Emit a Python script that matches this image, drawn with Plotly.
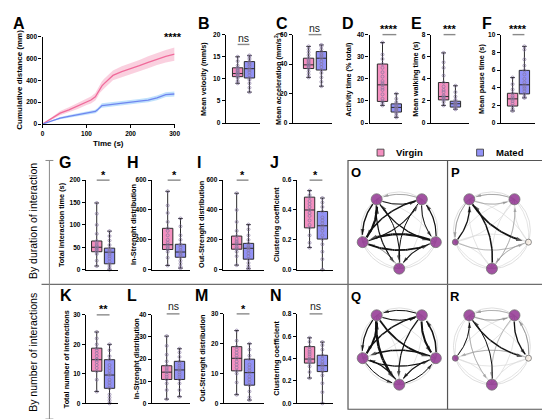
import numpy as np
import plotly.graph_objects as go

W, H = 550, 419
FONT = "Liberation Sans"
PINK = "#f490c0"
BLUE = "#9292f6"
DOT = "#85779f"
NODE = "#7b0a7b"

# ---------------- DATA ----------------
groups = ["Virgin", "Mated"]

# Panel A: cumulative distance (mm) vs time (s)
time_s = [0, 20, 40, 60, 80, 100, 110, 120, 125, 130, 135, 140, 160, 180, 200, 220, 240, 260, 280, 300]
virgin_distance = [0, 50, 100, 130, 165, 205, 220, 250, 285, 325, 350, 370, 445, 480, 505, 535, 565, 595, 620, 640]
virgin_sem = [0, 12, 20, 25, 28, 30, 32, 35, 38, 40, 42, 44, 45, 48, 50, 52, 55, 55, 58, 60]
mated_distance = [0, 30, 55, 70, 85, 100, 110, 115, 130, 155, 170, 172, 180, 190, 200, 210, 220, 240, 270, 275]
mated_sem = [0, 5, 10, 12, 14, 15, 16, 16, 18, 18, 20, 20, 20, 20, 20, 20, 20, 22, 22, 22]

# Box stats: [lower whisker, Q1, median, Q3, upper whisker]
velocity_virgin = [9.0, 10.5, 11.2, 12.5, 15.0]
velocity_mated = [7.0, 10.2, 12.3, 13.9, 15.3]
velocity_virgin_pts = [9.0, 9.5, 10.2, 10.5, 10.8, 11.0, 11.2, 11.3, 11.5, 11.8, 12.0, 12.3, 12.5, 13.0, 14.0, 15.0]
velocity_mated_pts = [7.0, 8.0, 9.0, 9.8, 10.2, 10.8, 11.5, 12.0, 12.3, 12.8, 13.2, 13.6, 13.9, 14.5, 15.0, 15.3]

accel_virgin = [31, 37, 39.5, 44, 52]
accel_mated = [25, 36, 44, 48.5, 53]
accel_virgin_pts = [31, 33, 35, 37, 38, 39, 39.5, 40, 41, 42, 43, 44, 46, 48, 50, 52]
accel_mated_pts = [25, 28, 31, 34, 36, 38, 40, 42, 44, 45, 46, 47, 48.5, 50, 52, 53]

activity_virgin = [8.0, 9.8, 17.3, 26.7, 36.4]
activity_mated = [2.6, 5.0, 7.1, 8.7, 13.3]
activity_virgin_pts = [8.0, 9.0, 9.8, 11, 13, 15, 16, 17.3, 18, 19, 21, 23, 25, 26.7, 29, 31, 36.4]
activity_mated_pts = [2.6, 3.5, 4.5, 5.0, 5.5, 6.0, 6.5, 7.1, 7.5, 8.0, 8.7, 9.5, 11, 13.3]

walking_virgin = [1.6, 2.1, 2.4, 3.67, 6.35]
walking_mated = [1.25, 1.45, 1.75, 1.98, 3.38]
walking_virgin_pts = [1.6, 1.9, 2.1, 2.2, 2.3, 2.4, 2.5, 2.8, 3.0, 3.3, 3.67, 4.3, 5.0, 5.5, 6.35]
walking_mated_pts = [1.25, 1.35, 1.45, 1.55, 1.65, 1.75, 1.8, 1.9, 1.98, 2.1, 2.4, 2.8, 3.38]

pause_virgin = [1.37, 1.93, 2.74, 3.37, 5.15]
pause_mated = [2.85, 3.3, 4.33, 5.96, 8.67]
pause_virgin_pts = [1.37, 1.6, 1.93, 2.2, 2.5, 2.74, 2.9, 3.1, 3.37, 3.8, 4.4, 5.15]
pause_mated_pts = [2.85, 3.0, 3.3, 3.6, 3.9, 4.1, 4.33, 4.6, 5.0, 5.5, 5.96, 6.5, 7.2, 8.3, 8.67]

dur_total_virgin = [8, 40, 50, 64, 149]
dur_total_mated = [0, 13, 39, 48, 86]
dur_total_virgin_pts = [8, 20, 35, 40, 42, 45, 48, 50, 52, 55, 60, 64, 80, 100, 125, 149]
dur_total_mated_pts = [0, 3, 8, 13, 18, 25, 30, 35, 39, 42, 45, 48, 55, 65, 75, 86]

dur_in_virgin = [28, 135, 167, 277, 525]
dur_in_mated = [10, 83, 118, 170, 343]
dur_in_virgin_pts = [28, 80, 120, 135, 145, 155, 167, 180, 200, 230, 260, 277, 320, 380, 430, 525]
dur_in_mated_pts = [10, 20, 40, 60, 83, 95, 105, 118, 130, 150, 165, 170, 200, 230, 290, 343]

dur_out_virgin = [30, 137, 170, 225, 512]
dur_out_mated = [5, 70, 143, 176, 302]
dur_out_virgin_pts = [30, 90, 120, 137, 145, 155, 170, 180, 190, 205, 225, 260, 320, 400, 512]
dur_out_mated_pts = [5, 10, 25, 45, 70, 90, 110, 130, 143, 150, 160, 176, 200, 230, 270, 302]

dur_clust_virgin = [0.148, 0.28, 0.40, 0.486, 0.53]
dur_clust_mated = [0.0, 0.205, 0.294, 0.39, 0.48]
dur_clust_virgin_pts = [0.148, 0.18, 0.23, 0.28, 0.30, 0.33, 0.36, 0.38, 0.40, 0.42, 0.44, 0.46, 0.486, 0.50, 0.53]
dur_clust_mated_pts = [0.0, 0.07, 0.12, 0.17, 0.205, 0.23, 0.26, 0.28, 0.294, 0.31, 0.33, 0.35, 0.39, 0.42, 0.45, 0.48]

num_total_virgin = [4, 10.9, 14.8, 18.7, 24.2]
num_total_mated = [0, 5.1, 9.6, 14.8, 20]
num_total_virgin_pts = [4, 8, 10.9, 12, 13, 14, 14.8, 15, 16, 17, 18, 18.7, 20, 22, 24.2]
num_total_mated_pts = [0, 1, 2, 3, 5.1, 6, 7, 8, 9.6, 10, 11, 12, 13, 14.8, 16, 18, 20]

num_in_virgin = [1.9, 10.8, 14.1, 17, 30.4]
num_in_mated = [3, 10.8, 15.1, 19, 24.7]
num_in_virgin_pts = [1.9, 6, 9, 10.8, 12, 13, 14.1, 15, 16, 17, 19, 22, 26, 30.4]
num_in_mated_pts = [3, 6, 9, 10.8, 12, 13, 14, 15.1, 16, 17, 18, 19, 21, 23, 24.7]

num_out_virgin = [2.9, 10.9, 15.1, 19, 24.4]
num_out_mated = [1.1, 6.1, 10.3, 14.8, 20]
num_out_virgin_pts = [2.9, 7, 10, 10.9, 12, 13, 14, 15.1, 16, 17, 18, 19, 21, 24.4]
num_out_mated_pts = [1.1, 2, 4, 6.1, 7, 8, 9, 10.3, 11, 12, 13, 14.8, 16, 18, 20]

num_clust_virgin = [0.226, 0.36, 0.396, 0.507, 0.586]
num_clust_mated = [0.0, 0.284, 0.337, 0.43, 0.548]
num_clust_virgin_pts = [0.226, 0.28, 0.33, 0.36, 0.37, 0.38, 0.39, 0.40, 0.42, 0.44, 0.46, 0.48, 0.507, 0.55, 0.586]
num_clust_mated_pts = [0.0, 0.1, 0.18, 0.25, 0.284, 0.30, 0.32, 0.337, 0.35, 0.37, 0.40, 0.43, 0.48, 0.52, 0.548]

# Networks: edges (source, target, weight); node sizes and colours
net_O_edges = [(4, 0, 2.2), (0, 4, 1.4), (2, 4, 2.2), (4, 2, 1.8), (1, 4, 1.5), (0, 2, 1.3), (0, 3, 1.2),
               (1, 3, 1.0), (2, 3, 1.1), (3, 4, 0.9), (2, 1, 1.2), (1, 2, 1.0), (0, 1, 1.0), (3, 0, 1.0),
               (4, 1, 1.1), (1, 0, 0.7)]
net_P_edges = [(0, 2, 1.8), (3, 0, 1.5), (4, 0, 1.3), (0, 4, 0.8), (1, 0, 0.7), (3, 1, 0.6), (2, 3, 0.6),
               (0, 1, 0.6), (4, 2, 0.5)]
net_Q_edges = [(0, 3, 2.5), (4, 0, 2.0), (1, 2, 2.0), (2, 1, 1.5), (0, 2, 1.8), (1, 4, 1.5), (2, 4, 1.5),
               (4, 2, 1.2), (3, 4, 1.2), (4, 3, 1.0), (2, 3, 1.2), (3, 2, 1.0), (0, 1, 1.2), (1, 0, 1.0),
               (1, 3, 1.2), (0, 4, 1.2)]
net_R_edges = [(0, 2, 1.3), (1, 2, 1.3), (2, 1, 0.9), (3, 0, 1.0), (4, 0, 1.0), (0, 1, 0.8), (1, 0, 0.6),
               (0, 3, 0.6), (2, 4, 0.6), (1, 3, 0.5)]
net_full_sizes = [11, 11, 11, 11, 11]
net_mated_sizes = [11, 11, 6, 11, 6]
net_full_colors = [NODE] * 5
net_mated_colors = [NODE, NODE, "#fbefe3", NODE, NODE]

# ---------------- HELPERS ----------------
def px(x):
    return x / W


def py(y):
    return 1 - y / H


layout_axes = {}
traces = []
annotations = []
shapes = []
n_axes = [0]


def new_axes(xdom, ydom, xrange, yrange, xkw=None, ykw=None):
    n_axes[0] += 1
    n = n_axes[0]
    s = "" if n == 1 else str(n)
    base = dict(showgrid=False, zeroline=False, fixedrange=True)
    xa = dict(base, domain=[px(xdom[0]), px(xdom[1])], range=xrange, anchor="y" + s)
    ya = dict(base, domain=[py(ydom[1]), py(ydom[0])], range=yrange, anchor="x" + s)
    xa.update(xkw or {})
    ya.update(ykw or {})
    layout_axes["xaxis" + s] = xa
    layout_axes["yaxis" + s] = ya
    return "x" + s, "y" + s


def ann(text, x, y, size, bold=False, angle=0, xanchor="center", color="black"):
    annotations.append(dict(text=text, x=px(x), y=py(y), xref="paper", yref="paper", showarrow=False,
                            textangle=angle, xanchor=xanchor, yanchor="middle",
                            font=dict(family=FONT, size=size, color=color,
                                      weight="bold" if bold else "normal")))


def hline(x0, x1, y, color, width):
    shapes.append(dict(type="line", xref="paper", yref="paper", x0=px(x0), x1=px(x1), y0=py(y), y1=py(y),
                       line=dict(color=color, width=width)))


def vline(x, y0, y1, color, width):
    shapes.append(dict(type="line", xref="paper", yref="paper", x0=px(x), x1=px(x), y0=py(y0), y1=py(y1),
                       line=dict(color=color, width=width)))


tickfont = dict(family=FONT, size=6.5, color="black", weight="bold")
ystyle = dict(showline=True, linecolor="black", linewidth=1.4, ticks="outside", ticklen=3, tickwidth=1.2,
              tickcolor="black", tickfont=tickfont)
xbox = dict(showline=True, linecolor="black", linewidth=1.4, ticks="", showticklabels=False)

# ---------------- PANEL A ----------------
xa, ya = new_axes((33, 167), (25, 114), [0, 300], [0, 800],
                  dict(ystyle, tickvals=[0, 100, 200, 300]),
                  dict(ystyle, tickvals=[0, 200, 400, 600, 800]))
for mean, sem, line_c, band_c in [(virgin_distance, virgin_sem, "#f06b9b", "rgba(246,170,196,0.55)"),
                                  (mated_distance, mated_sem, "#6f86f0", "rgba(140,200,250,0.55)")]:
    up = [m + s for m, s in zip(mean, sem)]
    lo = [m - s for m, s in zip(mean, sem)]
    traces.append(go.Scatter(x=time_s + time_s[::-1], y=up + lo[::-1], fill="toself", fillcolor=band_c,
                             line=dict(width=0), mode="lines", xaxis=xa, yaxis=ya, hoverinfo="skip",
                             showlegend=False))
    traces.append(go.Scatter(x=time_s, y=mean, mode="lines", line=dict(color=line_c, width=1.3),
                             xaxis=xa, yaxis=ya, showlegend=False))
ann("A", 9, 12, 16, True)
ann("****", 165, 25, 11, True)
ann("Cumulative distance (mm)", 10, 69, 8, True, -90)
ann("Time (s)", 100, 134, 8, True)

# ---------------- BOX PANELS ----------------
box_panels = [
    # letter, title, ymax, dtick, fmt, x0, x1, ytop, ybot, pink_px, blue_px, letter_pos, title_x, stat, stat_y, bar_y
    ("B", "Mean velocity (mm/s)", 20, 5, "", 219, 254, 23, 113, 231, 243, (197, 12), 197, "ns", 26, 33,
     velocity_virgin, velocity_mated, velocity_virgin_pts, velocity_mated_pts),
    ("C", "Mean acceleration (mm/s<sup>2</sup>)", 60, 20, "", 287, 327, 23, 113, 303, 316, (276, 12), 272, "ns", 16, 23,
     accel_virgin, accel_mated, accel_virgin_pts, accel_mated_pts),
    ("D", "Activity time (% total)", 40, 10, "", 365, 398, 23, 113, 378, 392, (343, 12), 344, "****", 17, 23,
     activity_virgin, activity_mated, activity_virgin_pts, activity_mated_pts),
    ("E", "Mean walking time (s)", 8, 2, "", 427, 466, 23, 113, 440, 452, (412, 12), 412, "***", 17, 23,
     walking_virgin, walking_mated, walking_virgin_pts, walking_mated_pts),
    ("F", "Mean pause time (s)", 10, 2, "", 498, 533, 23, 113, 510, 522, (484, 12), 479, "****", 17, 23,
     pause_virgin, pause_mated, pause_virgin_pts, pause_mated_pts),
    ("G", "Total interaction time (s)", 200, 50, "", 77, 110, 171, 262, 88, 101, (56, 153), 53, "*", 166, 171,
     dur_total_virgin, dur_total_mated, dur_total_virgin_pts, dur_total_mated_pts),
    ("H", "In-Strenght distribution", 600, 200, "", 144, 183, 171, 262, 160, 173, (125, 153), 126, "*", 166, 171,
     dur_in_virgin, dur_in_mated, dur_in_virgin_pts, dur_in_mated_pts),
    ("I", "Out-Strenght distribution", 600, 200, "", 216, 258, 171, 262, 230, 242, (192, 153), 195, "*", 166, 171,
     dur_out_virgin, dur_out_mated, dur_out_virgin_pts, dur_out_mated_pts),
    ("J", "Clustering coefficient", 0.6, 0.2, ".1f", 291, 328, 171, 262, 304, 317, (268, 153), 271, "*", 166, 171,
     dur_clust_virgin, dur_clust_mated, dur_clust_virgin_pts, dur_clust_mated_pts),
    ("K", "Total number of interactions", 30, 10, "", 77, 110, 308, 398, 88, 101, (57, 288), 57, "**", 302, 308,
     num_total_virgin, num_total_mated, num_total_virgin_pts, num_total_mated_pts),
    ("L", "In-Strenght distribution", 40, 10, "", 144, 183, 308, 398, 159, 172, (124, 288), 128, "ns", 299, 307,
     num_in_virgin, num_in_mated, num_in_virgin_pts, num_in_mated_pts),
    ("M", "Out-Strenght distribution", 30, 10, "", 217, 258, 307, 398, 230, 243, (194, 288), 195, "*", 302, 307,
     num_out_virgin, num_out_mated, num_out_virgin_pts, num_out_mated_pts),
    ("N", "Clustering coefficient", 0.8, 0.2, ".1f", 291, 328, 307, 398, 304, 317, (270, 288), 271, "ns", 299, 307,
     num_clust_virgin, num_clust_mated, num_clust_virgin_pts, num_clust_mated_pts),
]

for (letter, title, ymax, dtick, fmt, x0, x1, ytop, ybot, pk, bl, lpos, tx, stat, sy, by,
     bv, bm, pv, pm) in box_panels:
    u = bl - pk
    xr = [(x0 - pk) / u, (x1 - pk) / u]
    xa, ya = new_axes((x0, x1), (ytop, ybot), xr, [0, ymax], dict(xbox),
                      dict(ystyle, dtick=dtick, tick0=0, tickformat=fmt))
    for i, (stats, pts, col) in enumerate([(bv, pv, PINK), (bm, pm, BLUE)]):
        traces.append(go.Box(x=[i], lowerfence=[stats[0]], q1=[stats[1]], median=[stats[2]], q3=[stats[3]],
                             upperfence=[stats[4]], width=10.5 / u, whiskerwidth=0.45, fillcolor=col,
                             line=dict(color="#2a2a2a", width=1), boxpoints=False, xaxis=xa, yaxis=ya,
                             showlegend=False, hoverinfo="skip", name=groups[i], opacity=1))
        traces.append(go.Scatter(x=[i] * len(pts), y=pts, mode="markers", xaxis=xa, yaxis=ya,
                                 marker=dict(symbol="circle-open", size=3.0, color=DOT, line=dict(width=0.7)),
                                 showlegend=False, cliponaxis=False))
    ann(letter, lpos[0], lpos[1], 16, True)
    ann(title, tx, (ytop + ybot) / 2, 7.3, True, -90)
    stat_bold = stat != "ns"
    ann(stat, (pk + bl) / 2, sy, 11 if stat_bold else 10.5, stat_bold, color="black" if stat_bold else "#222")
    hline(pk, bl, by, "#8a8a8a", 1.4)

# ---------------- NETWORKS ----------------
SCALE = 39.0  # px per unit radius
node_angles = np.deg2rad([126, 54, -18, -90, 198])
node_xy = np.column_stack([np.cos(node_angles), np.sin(node_angles)])


def curve(p0, p2, curv=0.22, n=40):
    d = p2 - p0
    perp = np.array([d[1], -d[0]])
    c = (p0 + p2) / 2 + curv * perp
    uu = np.linspace(0, 1, n)[:, None]
    return (1 - uu) ** 2 * p0 + 2 * (1 - uu) * uu * c + uu ** 2 * p2


networks = [
    ("O", (343, 444), (151, 277), (395, 222), net_O_edges, net_full_sizes, net_full_colors),
    ("P", (444, 547), (151, 277), (489, 222), net_P_edges, net_mated_sizes, net_mated_colors),
    ("Q", (343, 444), (277, 404), (395, 340), net_Q_edges, net_full_sizes, net_full_colors),
    ("R", (444, 547), (277, 404), (489, 340), net_R_edges, net_mated_sizes, net_mated_colors),
]

for letter, xd, yd, cen, edges, sizes, colors in networks:
    xr = [(xd[0] - cen[0]) / SCALE, (xd[1] - cen[0]) / SCALE]
    yr = [-(yd[1] - cen[1]) / SCALE, -(yd[0] - cen[1]) / SCALE]
    xa, ya = new_axes(xd, yd, xr, yr, dict(visible=False), dict(visible=False))
    th = np.linspace(0, 2 * np.pi, 120)
    traces.append(go.Scatter(x=np.cos(th), y=np.sin(th), mode="lines", line=dict(color="#d6d6d6", width=0.8),
                             xaxis=xa, yaxis=ya, hoverinfo="skip", showlegend=False))
    gx, gy = [], []
    for i in range(5):
        for j in range(5):
            if i != j:
                pts = curve(node_xy[i], node_xy[j])
                gx += list(pts[:, 0]) + [None]
                gy += list(pts[:, 1]) + [None]
    traces.append(go.Scatter(x=gx, y=gy, mode="lines", line=dict(color="#d9d9d9", width=0.7),
                             xaxis=xa, yaxis=ya, hoverinfo="skip", showlegend=False))
    for s, t, w in sorted(edges, key=lambda e: e[2]):
        pts = curve(node_xy[s], node_xy[t])
        r_t = (sizes[t] / 2 + 1.5) / SCALE
        r_s = (sizes[s] / 2) / SCALE
        keep = (np.linalg.norm(pts - node_xy[t], axis=1) > r_t) & (np.linalg.norm(pts - node_xy[s], axis=1) > r_s)
        pts = pts[keep]
        col = "#111111" if w >= 1.0 else "#8c8c8c"
        msize = [0] * (len(pts) - 1) + [4 + 1.5 * w]
        traces.append(go.Scatter(x=pts[:, 0], y=pts[:, 1], mode="lines+markers",
                                 line=dict(color=col, width=w),
                                 marker=dict(symbol="arrow", size=msize, color=col, angleref="previous",
                                             line=dict(width=0)),
                                 xaxis=xa, yaxis=ya, hoverinfo="skip", showlegend=False))
    traces.append(go.Scatter(x=node_xy[:, 0], y=node_xy[:, 1], mode="markers",
                             marker=dict(size=sizes, color=colors, line=dict(color="#3a3a3a", width=0.8)),
                             xaxis=xa, yaxis=ya, hoverinfo="skip", showlegend=False))
    ann(letter, xd[0] + 8, yd[0] + 12, 13, True)

# frames of the network area
shapes.append(dict(type="rect", xref="paper", yref="paper", x0=px(343), x1=px(547), y0=py(404), y1=py(151),
                   line=dict(color="#555555", width=1.2)))
vline(444, 151, 404, "#555555", 1.2)
hline(32, 547, 277, "#6e6e6e", 1.4)
vline(40, 151, 414, "#8a8a8a", 1.0)
hline(36, 44, 151, "#8a8a8a", 1.0)
hline(36, 44, 414, "#8a8a8a", 1.0)
ann("By duration of interaction", 24, 213, 10.5, False, -90)
ann("By number of interactions", 24, 346, 10.5, False, -90)

# legend
for cx, col, label in [(376, PINK, "Virgin"), (477, BLUE, "Mated")]:
    shapes.append(dict(type="rect", xref="paper", yref="paper", x0=px(cx - 3.5), x1=px(cx + 3.5),
                       y0=py(146.5), y1=py(139.5), fillcolor=col, line=dict(color="#444444", width=0.9)))
    ann(label, cx + 14, 143, 9.5, True, xanchor="left")

fig = go.Figure(traces)
fig.update_layout(width=W, height=H, margin=dict(l=0, r=0, t=0, b=0), paper_bgcolor="white",
                  plot_bgcolor="rgba(0,0,0,0)", showlegend=False, annotations=annotations, shapes=shapes,
                  font=dict(family=FONT), **layout_axes)
fig.write_html("out.html")
